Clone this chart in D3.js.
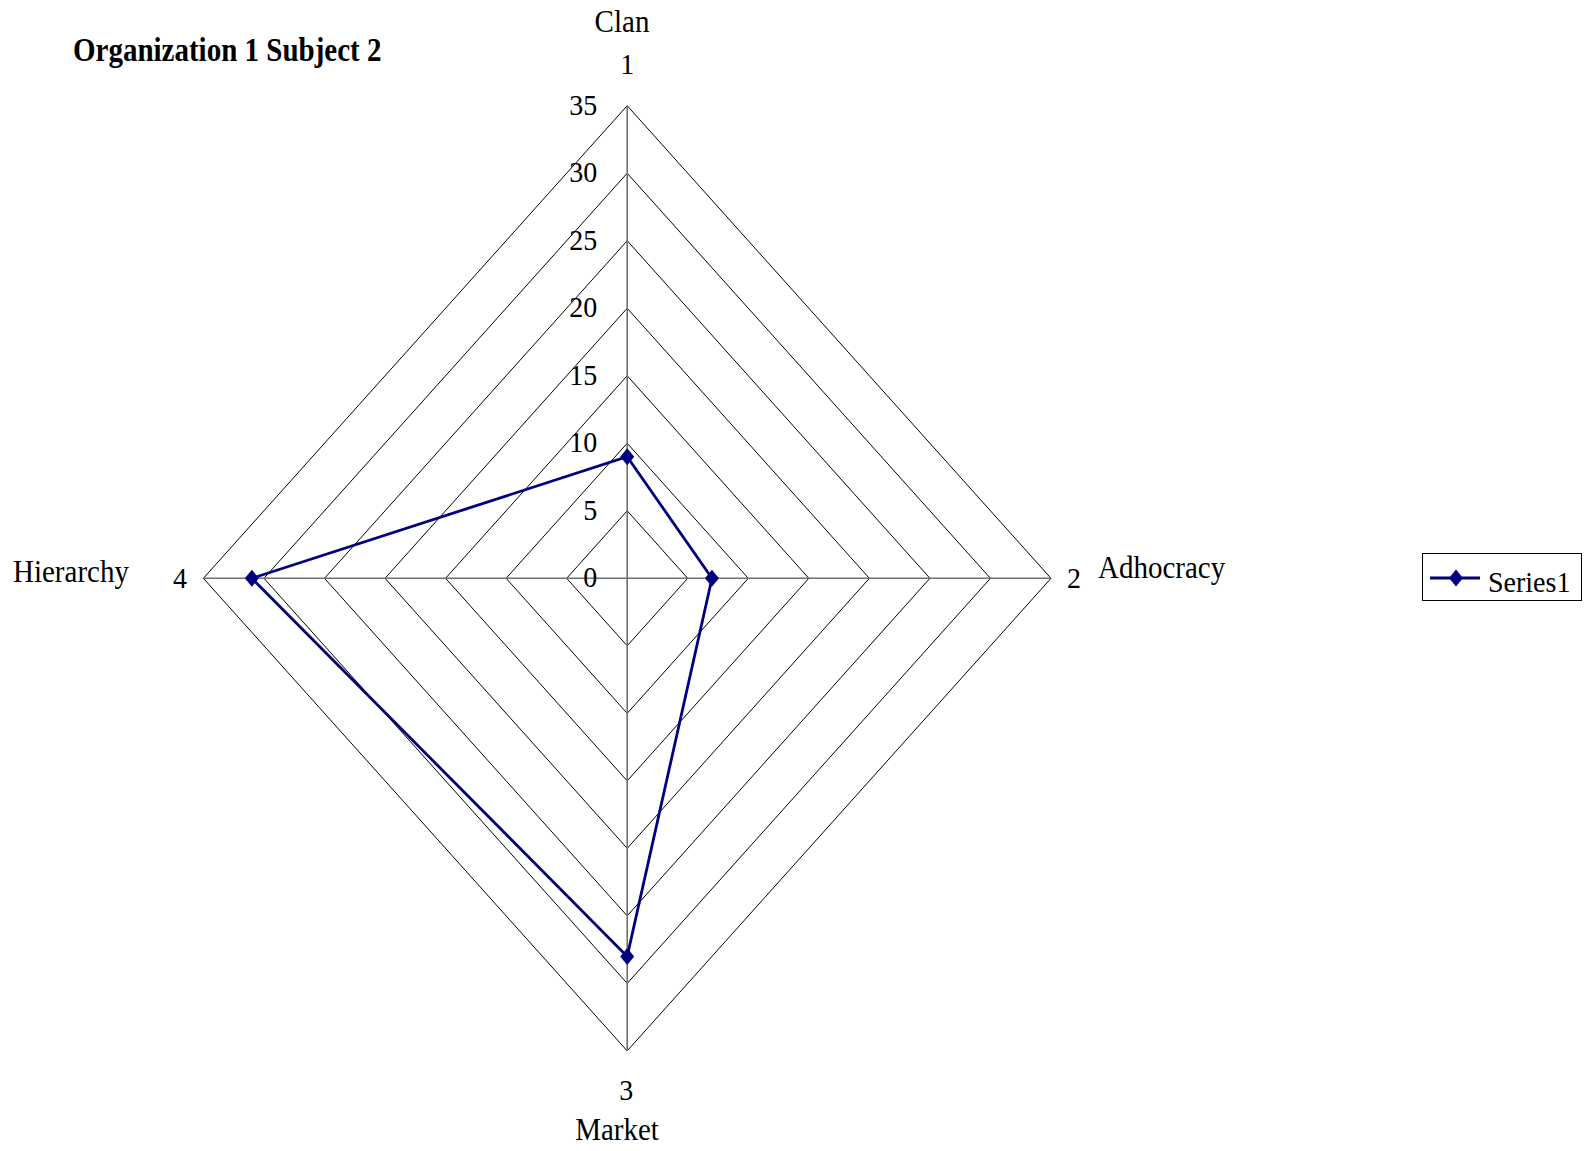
<!DOCTYPE html>
<html>
<head>
<meta charset="utf-8">
<script src="https://cdn.jsdelivr.net/npm/d3@7"></script>
<style>
  html, body { margin: 0; padding: 0; background: #fff; }
  svg { display: block; }
  text { font-family: "Liberation Serif", "Times New Roman", serif; fill: #000; }
</style>
</head>
<body>
<script>
// Radar chart: four culture types, one series
const categories = ["Clan", "Adhocracy", "Market", "Hierarchy"];
const axisNumbers = ["1", "2", "3", "4"];
const seriesName = "Series1";
const seriesValues = [9, 7, 28, 31];
const tickValues = [0, 5, 10, 15, 20, 25, 30, 35];
const chartTitle = "Organization 1 Subject 2";

const W = 1591, H = 1151;
const cx = 627.2, cy = 578.3;
const maxV = 35;

const svg = d3.select("body").append("svg")
  .attr("width", W).attr("height", H);

// separate radial scales for horizontal and vertical reach
const rx = d3.scaleLinear().domain([0, maxV]).range([0, 423.8]);
const ry = d3.scaleLinear().domain([0, maxV]).range([0, 472.6]);

const angle = i => i * Math.PI / 2;
const px = (i, v) => cx + Math.sin(angle(i)) * rx(v);
const py = (i, v) => cy - Math.cos(angle(i)) * ry(v);

// grid diamonds
const grid = svg.append("g");
tickValues.filter(t => t > 0).forEach(t => {
  const pts = categories.map((c, i) => [px(i, t), py(i, t)]);
  grid.append("path")
    .attr("d", d3.line()(pts) + "Z")
    .attr("fill", "none")
    .attr("stroke", "#000")
    .attr("stroke-width", 1);
});

// spokes
categories.forEach((c, i) => {
  grid.append("line")
    .attr("x1", cx).attr("y1", cy)
    .attr("x2", px(i, maxV)).attr("y2", py(i, maxV))
    .attr("stroke", "#707070")
    .attr("stroke-width", 1.6);
});

// value labels along the top spoke
svg.append("g").selectAll("text")
  .data(tickValues)
  .join("text")
  .attr("transform", d => `translate(${cx - 30},${py(0, d) + 9}) scale(1,1.06)`)
  .attr("text-anchor", "end")
  .attr("font-size", 28)
  .text(d => d);

// axis numbers and category names
const numPos = [
  { x: cx, y: 74, anchor: "middle" },
  { x: 1067, y: 588, anchor: "start" },
  { x: cx - 1, y: 1100, anchor: "middle" },
  { x: 187, y: 588, anchor: "end" }
];
const namePos = [
  { x: 622, y: 32, anchor: "middle" },
  { x: 1098, y: 578, anchor: "start" },
  { x: 617, y: 1140, anchor: "middle" },
  { x: 13, y: 582, anchor: "start" }
];
svg.append("g").selectAll("text")
  .data(axisNumbers)
  .join("text")
  .attr("transform", (d, i) => `translate(${numPos[i].x},${numPos[i].y}) scale(1,1.06)`)
  .attr("text-anchor", (d, i) => numPos[i].anchor)
  .attr("font-size", 28)
  .text(d => d);
svg.append("g").selectAll("text")
  .data(categories)
  .join("text")
  .attr("transform", (d, i) => `translate(${namePos[i].x},${namePos[i].y}) scale(1,1.06)`)
  .attr("text-anchor", (d, i) => namePos[i].anchor)
  .attr("font-size", 29)
  .text(d => d);

// series polygon
const color = "#000080";
const seriesPts = seriesValues.map((v, i) => [px(i, v), py(i, v)]);
svg.append("path")
  .attr("d", d3.line()(seriesPts) + "Z")
  .attr("fill", "none")
  .attr("stroke", color)
  .attr("stroke-width", 2.8);

// diamond marker, slightly taller than wide
const diamondPath = d3.line()([[0, -8.5], [7, 0], [0, 8.5], [-7, 0]]) + "Z";
svg.append("g").selectAll("path")
  .data(seriesPts)
  .join("path")
  .attr("transform", d => `translate(${d[0]},${d[1]})`)
  .attr("d", diamondPath)
  .attr("fill", color);

// title
svg.append("text")
  .attr("transform", "translate(73,61) scale(1,1.13)")
  .attr("font-size", 29)
  .attr("font-weight", "bold")
  .text(chartTitle);

// legend
const lg = svg.append("g");
lg.append("rect")
  .attr("x", 1422.5).attr("y", 553.5)
  .attr("width", 159).attr("height", 47)
  .attr("fill", "#fff")
  .attr("stroke", "#000")
  .attr("stroke-width", 1);
lg.append("line")
  .attr("x1", 1430).attr("x2", 1480)
  .attr("y1", 578).attr("y2", 578)
  .attr("stroke", color).attr("stroke-width", 2.8);
lg.append("path")
  .attr("transform", "translate(1456,578)")
  .attr("d", diamondPath)
  .attr("fill", color);
lg.append("text")
  .attr("transform", "translate(1488,592) scale(1,1.06)")
  .attr("font-size", 28)
  .text(seriesName);
</script>
</body>
</html>
